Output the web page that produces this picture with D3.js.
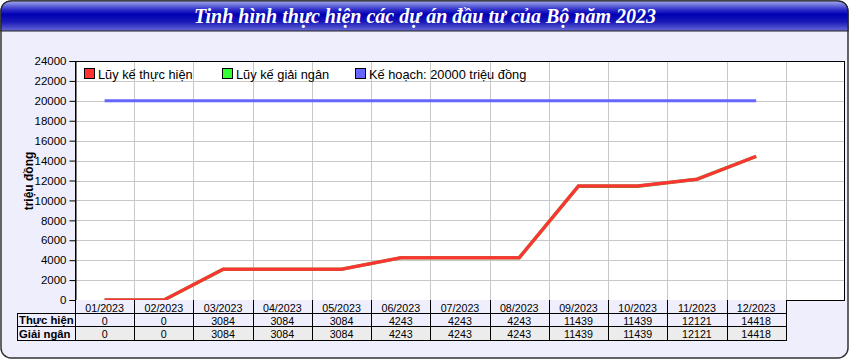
<!DOCTYPE html>
<html><head><meta charset="utf-8">
<script src="https://cdn.jsdelivr.net/npm/d3@7"></script>
<style>html,body{margin:0;padding:0;background:#fff;}svg{display:block;}</style>
</head><body>
<script>
const months = ["01/2023","02/2023","03/2023","04/2023","05/2023","06/2023","07/2023","08/2023","09/2023","10/2023","11/2023","12/2023"];
const thucHien = [0,0,3084,3084,3084,4243,4243,4243,11439,11439,12121,14418];
const giaiNgan = [0,0,3084,3084,3084,4243,4243,4243,11439,11439,12121,14418];
const keHoach = 20000;
const yTicks = [0,2000,4000,6000,8000,10000,12000,14000,16000,18000,20000,22000,24000];
const seriesNames = ["Lũy kế thực hiện","Lũy kế giải ngân","Kế hoạch: 20000 triệu đồng"];
const seriesColors = ["#ff3333","#33ff33","#6666ff"];
const rowLabels = ["Thực hiện","Giải ngân"];
const title = "Tinh hình thực hiện các dự án đầu tư của Bộ năm 2023";
const yTitle = "triệu đồng";

const W=850,H=360;
const FONT="Liberation Sans, Arial, sans-serif";
const svg=d3.select("body").append("svg").attr("width",W).attr("height",H);
const defs=svg.append("defs");
const g1=defs.append("linearGradient").attr("id","tg").attr("x1",0).attr("y1",0).attr("x2",0).attr("y2",1);
[[0,"#a4aaee"],[0.3,"#2a2ac8"],[0.45,"#0000b4"],[0.7,"#1a1ab8"],[1,"#6a6ad8"]].forEach(s=>g1.append("stop").attr("offset",s[0]).attr("stop-color",s[1]));

// outer frame
svg.append("rect").attr("x",1).attr("y",1).attr("width",W-3).attr("height",H-3).attr("rx",10)
  .attr("fill","#eeeefc").attr("stroke","#333").attr("stroke-width",1.5);
// title bar
const tb="M1,31 L1,12 Q1,1 12,1 L837,1 Q848,1 848,12 L848,31 Z";
svg.append("path").attr("d",tb).attr("fill","url(#tg)").attr("stroke","#222").attr("stroke-width",1.2);
svg.append("text").attr("x",425).attr("y",23).attr("text-anchor","middle")
  .attr("font-family","Liberation Serif, Times New Roman, serif").attr("font-style","italic").attr("font-weight","bold")
  .attr("font-size",20).attr("fill","#fff").text(title);

const L=75,R=845,T=61,B=300;
const x=d3.scaleBand().domain(months.concat(["__"])).range([L,R]);
const y=d3.scaleLinear().domain([0,24000]).range([B,T]);

svg.append("rect").attr("x",L).attr("y",T).attr("width",R-L).attr("height",B-T).attr("fill","#fff");
// grid
svg.append("g").selectAll("line").data(yTicks.slice(1)).join("line")
  .attr("x1",L).attr("x2",R).attr("y1",d=>Math.round(y(d))+0.5).attr("y2",d=>Math.round(y(d))+0.5)
  .attr("stroke","#c8c8c8");
svg.append("g").selectAll("line").data(months.slice(1).concat(["__"])).join("line")
  .attr("x1",d=>Math.round(x(d))+0.5).attr("x2",d=>Math.round(x(d))+0.5).attr("y1",T).attr("y2",B)
  .attr("stroke","#c8c8c8");
svg.append("rect").attr("x",L+0.5).attr("y",T+0.5).attr("width",R-L-1).attr("height",B-T).attr("fill","none").attr("stroke","#000");

// y axis
const ya=svg.append("g").attr("transform",`translate(${L+0.5},0)`)
  .call(d3.axisLeft(y).tickValues(yTicks).tickSize(6).tickPadding(3).tickFormat(d3.format("d")));
ya.select(".domain").attr("stroke","#000");
ya.selectAll("text").attr("font-family",FONT).attr("font-size",11.5).attr("fill","#000");
svg.append("text").attr("x",33).attr("y",181).attr("transform","rotate(-90,33,181)").attr("text-anchor","middle")
  .attr("font-family",FONT).attr("font-weight","bold").attr("font-size",12).attr("fill","#000").text(yTitle);

// lines
const cx=d=>x(d)+x.bandwidth()/2;
const line=d3.line().x(d=>cx(d.m)).y(d=>y(d.v));
svg.append("path").datum(months.map((m,i)=>({m,v:giaiNgan[i]}))).attr("d",line)
  .attr("fill","none").attr("stroke","#8a8a30").attr("stroke-width",3.6);
svg.append("path").datum(months.map((m,i)=>({m,v:thucHien[i]}))).attr("d",line)
  .attr("fill","none").attr("stroke",seriesColors[0]).attr("stroke-width",3);
svg.append("path").datum([{m:months[0],v:keHoach},{m:months[11],v:keHoach}]).attr("d",line)
  .attr("fill","none").attr("stroke",seriesColors[2]).attr("stroke-width",3);

// legend
const legX=[84,222,355];
seriesNames.forEach((n,i)=>{
  svg.append("rect").attr("x",legX[i]+0.5).attr("y",68.5).attr("width",10).attr("height",10)
    .attr("fill",seriesColors[i]).attr("stroke","#000");
  svg.append("text").attr("x",legX[i]+14).attr("y",78.5).attr("font-family",FONT)
    .attr("font-size",12.8).attr("fill","#000").text(n);
});

// table
const tL=17, tR=Math.round(x("__")), r0=300, r1=313, r2=326, r3=340;
svg.append("rect").attr("x",L).attr("y",r0).attr("width",tR-L).attr("height",r1-r0).attr("fill","#eeeefc");
svg.append("rect").attr("x",tL).attr("y",r1).attr("width",tR-tL).attr("height",r2-r1).attr("fill","#eeeefc");
svg.append("rect").attr("x",L).attr("y",r2).attr("width",tR-L).attr("height",r3-r2).attr("fill","#ececec");
svg.append("rect").attr("x",tL).attr("y",r2).attr("width",L-tL).attr("height",r3-r2).attr("fill","#eeeefc");
const tg=svg.append("g").attr("stroke","#000");
[r1,r2,r3].forEach(r=>tg.append("line").attr("x1",tL).attr("x2",tR).attr("y1",r+0.5).attr("y2",r+0.5));
tg.append("line").attr("x1",tL+0.5).attr("x2",tL+0.5).attr("y1",r1).attr("y2",r3+1);
months.concat(["__"]).forEach(m=>{
  const xx=Math.round(x(m))+0.5;
  tg.append("line").attr("x1",xx).attr("x2",xx).attr("y1",r0).attr("y2",r3+1);
});
const txt=(xx,yy,t,anchor,bold)=>svg.append("text").attr("x",xx).attr("y",yy).attr("text-anchor",anchor)
  .attr("font-family",FONT).attr("font-size",bold?11.3:10.7)
  .attr("font-weight",bold?"bold":"normal").attr("fill","#000").text(t);
months.forEach((m,i)=>{
  txt(cx(m),r1-1.5,m,"middle");
  txt(cx(m),r2-1.5,thucHien[i],"middle");
  txt(cx(m),r3-2,giaiNgan[i],"middle");
});
txt(tL+2,r2-2,rowLabels[0],"start",true);
txt(tL+2,r3-2,rowLabels[1],"start",true);
</script>
</body></html>
